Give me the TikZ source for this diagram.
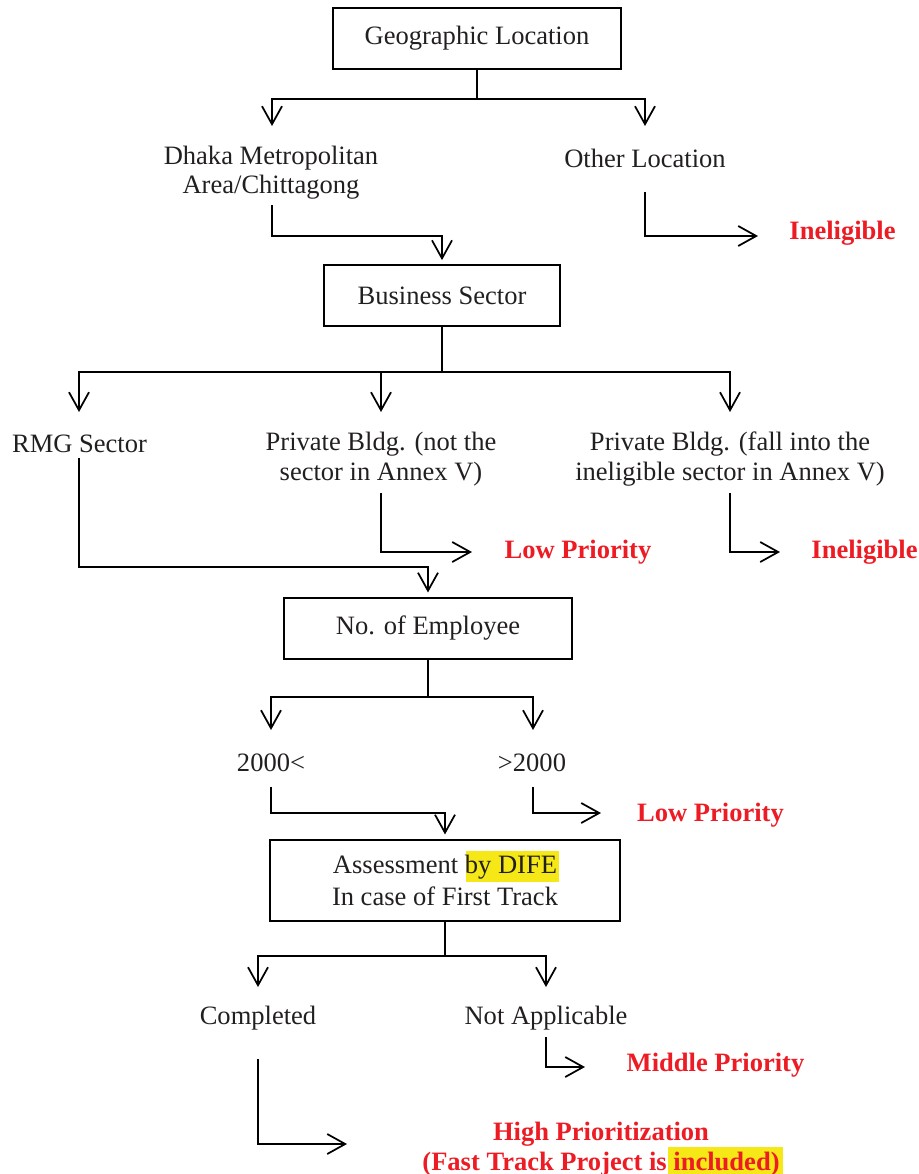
\documentclass[tikz,border=0pt]{standalone}
\usepackage{fontspec}
\setmainfont{Liberation Serif}
\usetikzlibrary{arrows.meta}
\definecolor{inkred}{HTML}{ED1C24}
\definecolor{inkblack}{HTML}{231F20}
\definecolor{marker}{HTML}{F5E816}
\begin{document}
\begin{tikzpicture}[x=0.75pt,y=-0.75pt,
  ln/.style={draw=black,line width=1.3pt},
  arr/.style={ln,-{Straight Barb[length=13.5pt,width=15pt,line width=1.3pt]}},
  stepbox/.style={draw=black,line width=1.3pt,inner sep=0pt,align=center,
    font=\fontsize{19.9}{23.5}\selectfont,text=inkblack},
  label/.style={inner sep=0pt,align=center,font=\fontsize{19.9}{22}\selectfont,text=inkblack},
  verdict/.style={inner sep=0pt,align=center,font=\fontsize{19.9}{22.5}\selectfont\bfseries,text=inkred},
  hl/.style={fill=marker,draw=none}]
\useasboundingbox (0,0) rectangle (919,1174);

% --- boxes ---
\node[stepbox,minimum width=288*0.75pt,minimum height=61*0.75pt] (geo) at (477,38.5) {Geographic Location};
\node[stepbox,minimum width=236*0.75pt,minimum height=61*0.75pt] (biz) at (442,295.5) {Business Sector};
\node[stepbox,minimum width=288*0.75pt,minimum height=61*0.75pt] (emp) at (428,628.5) {No. of Employee};

% highlight behind "by DIFE"
\fill[hl] (466,851) rectangle (559,882);
\node[stepbox,minimum width=350*0.75pt,minimum height=81*0.75pt] (dife) at (445,880.5)
  {Assessment by DIFE\\In case of First Track};

% --- option labels ---
\node[label] (dhaka) at (271,172.5) {Dhaka Metropolitan\\Area/Chittagong};
\node[label] (other) at (645,158) {Other Location};
\node[label] (rmg) at (79.5,444) {RMG Sector};
\node[label] (priv1) at (381,459) {Private Bldg. (not the\\sector in Annex V)};
\node[label] (priv2) at (730,459) {Private Bldg. (fall into the\\ineligible sector in Annex V)};
\node[label] (lt) at (271,763) {2000<};
\node[label] (gt) at (532,763) {>2000};
\node[label] (done) at (258,1018) {Completed};
\node[label] (na) at (546,1018) {Not Applicable};

% --- outcomes ---
\node[verdict] (inel1) at (842.5,233) {Ineligible};
\node[verdict] (low1) at (578,552) {Low Priority};
\node[verdict] (inel2) at (864.5,552) {Ineligible};
\node[verdict] (low2) at (710.5,815) {Low Priority};
\node[verdict] (mid) at (715.5,1065) {Middle Priority};
\fill[hl] (668,1147) rectangle (783,1174);
\node[verdict] (high) at (601,1149) {High Prioritization\\(Fast Track Project is included)};

% --- junctions and free arrow ends ---
\coordinate (j1) at (477,99);
\coordinate (d1) at (272,126);
\coordinate (d2) at (645,126);
\coordinate (j2) at (442,372);
\coordinate (d3) at (79,412);
\coordinate (d4) at (381,412);
\coordinate (d5) at (730,412);
\coordinate (j3) at (428,697);
\coordinate (d6) at (271,730);
\coordinate (d7) at (533,730);
\coordinate (j4) at (445,956);
\coordinate (d8) at (258,987);
\coordinate (d9) at (546,987);
\coordinate (e1) at (758,236);
\coordinate (e2) at (472,552);
\coordinate (e3) at (780,552);
\coordinate (e4) at (601,813);
\coordinate (e5) at (585,1067);
\coordinate (e6) at (347,1144);

% --- connectors ---
\draw[ln] (geo.south) -- (j1);
\draw[arr] (j1) -| (d1);
\draw[arr] (j1) -| (d2);
\draw[arr] (272,205) -- (272,236) -| ([yshift=3pt]biz.north);
\draw[arr] (645,192) |- (e1);

\draw[ln] (biz.south) -- (j2);
\draw[arr] (j2) -| (d3);
\draw[arr] (j2) -| (d4);
\draw[arr] (j2) -| (d5);
\draw[arr] (79,458) -- (79,567) -| ([yshift=3.5pt]emp.north);
\draw[arr] (381,493) |- (e2);
\draw[arr] (730,493) |- (e3);

\draw[ln] (emp.south) -- (j3);
\draw[arr] (j3) -| (d6);
\draw[arr] (j3) -| (d7);
\draw[arr] (271,787) -- (271,813) -| ([yshift=3.5pt]dife.north);
\draw[arr] (533,787) |- (e4);

\draw[ln] (dife.south) -- (j4);
\draw[arr] (j4) -| (d8);
\draw[arr] (j4) -| (d9);
\draw[arr] (546,1037) |- (e5);
\draw[arr] (258,1059) |- (e6);
\end{tikzpicture}
\end{document}
